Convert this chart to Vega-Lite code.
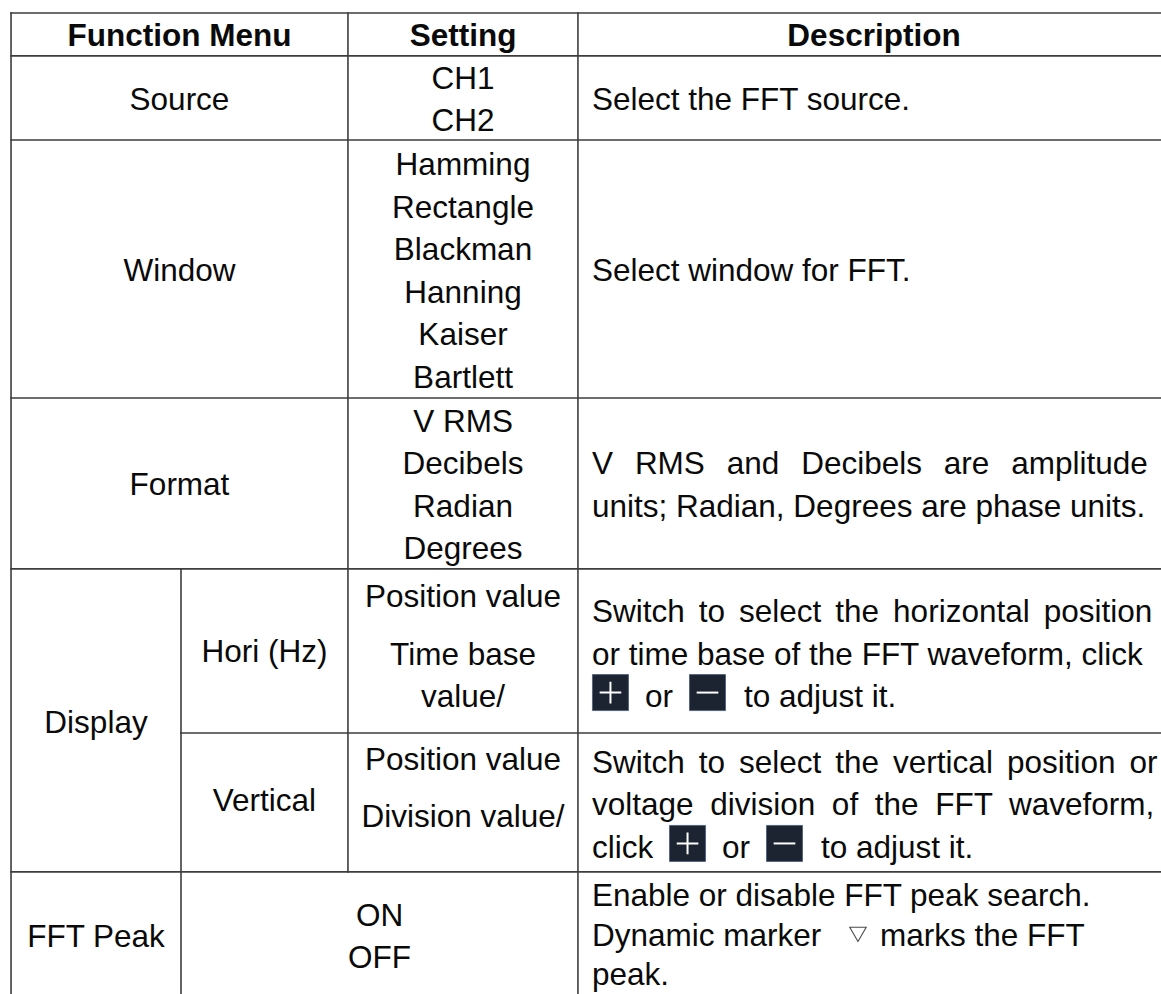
{
  "$schema": "https://vega.github.io/schema/vega-lite/v6.json",
  "width": 1161,
  "height": 994,
  "padding": 0,
  "autosize": {"type": "none"},
  "background": "#ffffff",
  "config": {"view": {"stroke": null}},
  "datasets": {
    "grid": [
      {"x": 0.95, "x2": 0.95, "line": 0, "line2": 23.3},
      {"x": 15.59, "x2": 15.59, "line": 13.08, "line2": 23.3},
      {"x": 29.97, "x2": 29.97, "line": 0, "line2": 20.21},
      {"x": 49.78, "x2": 49.78, "line": 0, "line2": 23.3},
      {"x": 0.95, "x2": 100, "line": 0, "line2": 0},
      {"x": 0.95, "x2": 100, "line": 1.01, "line2": 1.01},
      {"x": 0.95, "x2": 100, "line": 2.99, "line2": 2.99},
      {"x": 0.95, "x2": 100, "line": 9.06, "line2": 9.06},
      {"x": 0.95, "x2": 100, "line": 13.08, "line2": 13.08},
      {"x": 15.59, "x2": 100, "line": 16.94, "line2": 16.94},
      {"x": 0.95, "x2": 100, "line": 20.21, "line2": 20.21}
    ],
    "cells": [
      {"kind": "head", "x": 15.46, "line": 0.5, "text": "Function Menu"},
      {"kind": "head", "x": 39.88, "line": 0.5, "text": "Setting"},
      {"kind": "head", "x": 75.28, "line": 0.5, "text": "Description"},

      {"kind": "center", "x": 15.46, "line": 2.0, "text": "Source"},
      {"kind": "center", "x": 15.46, "line": 6.03, "text": "Window"},
      {"kind": "center", "x": 15.46, "line": 11.07, "text": "Format"},
      {"kind": "center", "x": 8.27, "line": 16.65, "text": "Display"},
      {"kind": "center", "x": 8.27, "line": 21.7, "text": "FFT Peak"},
      {"kind": "center", "x": 22.78, "line": 15.0, "text": "Hori (Hz)"},
      {"kind": "center", "x": 22.78, "line": 18.5, "text": "Vertical"},

      {"kind": "center", "x": 39.88, "line": 1.5, "text": "CH1"},
      {"kind": "center", "x": 39.88, "line": 2.5, "text": "CH2"},
      {"kind": "center", "x": 39.88, "line": 3.53, "text": "Hamming"},
      {"kind": "center", "x": 39.88, "line": 4.53, "text": "Rectangle"},
      {"kind": "center", "x": 39.88, "line": 5.53, "text": "Blackman"},
      {"kind": "center", "x": 39.88, "line": 6.53, "text": "Hanning"},
      {"kind": "center", "x": 39.88, "line": 7.53, "text": "Kaiser"},
      {"kind": "center", "x": 39.88, "line": 8.53, "text": "Bartlett"},
      {"kind": "center", "x": 39.88, "line": 9.57, "text": "V RMS"},
      {"kind": "center", "x": 39.88, "line": 10.57, "text": "Decibels"},
      {"kind": "center", "x": 39.88, "line": 11.57, "text": "Radian"},
      {"kind": "center", "x": 39.88, "line": 12.57, "text": "Degrees"},
      {"kind": "center", "x": 39.88, "line": 13.69, "text": "Position value"},
      {"kind": "center", "x": 39.88, "line": 15.06, "text": "Time base"},
      {"kind": "center", "x": 39.88, "line": 16.05, "text": "value/"},
      {"kind": "center", "x": 39.88, "line": 17.53, "text": "Position value"},
      {"kind": "center", "x": 39.88, "line": 18.87, "text": "Division value/"},
      {"kind": "center", "x": 32.69, "line": 21.2, "text": "ON"},
      {"kind": "center", "x": 32.69, "line": 22.2, "text": "OFF"},

      {"kind": "desc", "x": 50.99, "line": 2.0, "text": "Select the FFT source."},
      {"kind": "desc", "x": 50.99, "line": 6.03, "text": "Select window for FFT."},
      {"kind": "desc", "x": 50.99, "line": 10.57, "text": "V \u2005\u2006RMS \u2005\u2006and \u2005\u2006Decibels \u2005\u2006are \u2005\u2006amplitude"},
      {"kind": "desc", "x": 50.99, "line": 11.57, "text": "units; Radian, Degrees are phase units."},
      {"kind": "desc", "x": 50.99, "line": 14.05, "text": "Switch \u2006to \u2006select \u2006the \u2006horizontal \u2006position"},
      {"kind": "desc", "x": 50.99, "line": 15.05, "text": "or time base of the FFT waveform, click"},
      {"kind": "desc", "x": 55.56, "line": 16.05, "text": "or"},
      {"kind": "desc", "x": 64.08, "line": 16.05, "text": "to adjust it."},
      {"kind": "desc", "x": 50.99, "line": 17.6, "text": "Switch \u2006to \u2006select \u2006the \u2006vertical \u2006position \u2006or"},
      {"kind": "desc", "x": 50.99, "line": 18.6, "text": "voltage \u2005division \u2005of \u2005the \u2005FFT \u2005waveform,"},
      {"kind": "desc", "x": 50.99, "line": 19.6, "text": "click"},
      {"kind": "desc", "x": 62.19, "line": 19.6, "text": "or"},
      {"kind": "desc", "x": 70.71, "line": 19.6, "text": "to adjust it."},
      {"kind": "desc", "x": 50.99, "line": 20.72, "text": "Enable or disable FFT peak search."},
      {"kind": "desc", "x": 50.99, "line": 21.68, "text": "Dynamic marker"},
      {"kind": "desc", "x": 75.8, "line": 21.68, "text": "marks the FFT"},
      {"kind": "desc", "x": 50.99, "line": 22.58, "text": "peak."}
    ],
    "icons": [
      {"x": 52.58, "line": 15.99, "sym": "plus"},
      {"x": 60.94, "line": 15.99, "sym": "minus"},
      {"x": 59.22, "line": 19.54, "sym": "plus"},
      {"x": 67.57, "line": 19.54, "sym": "minus"}
    ],
    "markers": [
      {"x": 73.9, "line": 21.68, "name": "peak marker"}
    ]
  },
  "layer": [
    {
      "data": {"name": "grid"},
      "mark": {"type": "rule", "stroke": "#3d3d3d", "strokeWidth": 1.6, "strokeCap": "square"},
      "encoding": {
        "x": {"field": "x", "type": "quantitative", "scale": {"domain": [0, 100], "range": [0, 1161], "nice": false, "zero": false}, "axis": null},
        "x2": {"field": "x2"},
        "y": {"field": "line", "type": "quantitative", "scale": {"domain": [0, 23.0824], "range": [13, 994], "nice": false, "zero": false}, "axis": null},
        "y2": {"field": "line2"}
      }
    },
    {
      "data": {"name": "cells"},
      "transform": [{"filter": "datum.kind === 'head'"}],
      "mark": {"type": "text", "font": "Liberation Sans", "fontSize": 31.5, "fontWeight": "bold", "align": "center", "baseline": "middle", "dy": 3, "color": "#0a0a0a"},
      "encoding": {
        "x": {"field": "x", "type": "quantitative", "scale": {"domain": [0, 100], "range": [0, 1161], "nice": false, "zero": false}, "axis": null},
        "y": {"field": "line", "type": "quantitative", "scale": {"domain": [0, 23.0824], "range": [13, 994], "nice": false, "zero": false}, "axis": null},
        "text": {"field": "text"}
      }
    },
    {
      "data": {"name": "cells"},
      "transform": [{"filter": "datum.kind === 'center'"}],
      "mark": {"type": "text", "font": "Liberation Sans", "fontSize": 31.5, "align": "center", "baseline": "middle", "dy": 3, "color": "#0a0a0a"},
      "encoding": {
        "x": {"field": "x", "type": "quantitative", "scale": {"domain": [0, 100], "range": [0, 1161], "nice": false, "zero": false}, "axis": null},
        "y": {"field": "line", "type": "quantitative", "scale": {"domain": [0, 23.0824], "range": [13, 994], "nice": false, "zero": false}, "axis": null},
        "text": {"field": "text"}
      }
    },
    {
      "data": {"name": "cells"},
      "transform": [{"filter": "datum.kind === 'desc'"}],
      "mark": {"type": "text", "font": "Liberation Sans", "fontSize": 31.5, "align": "left", "baseline": "middle", "dy": 3, "color": "#0a0a0a"},
      "encoding": {
        "x": {"field": "x", "type": "quantitative", "scale": {"domain": [0, 100], "range": [0, 1161], "nice": false, "zero": false}, "axis": null},
        "y": {"field": "line", "type": "quantitative", "scale": {"domain": [0, 23.0824], "range": [13, 994], "nice": false, "zero": false}, "axis": null},
        "text": {"field": "text"}
      }
    },
    {
      "data": {"name": "icons"},
      "mark": {"type": "point", "shape": "square", "size": 1296, "filled": true, "fill": "#1c2331", "stroke": "#56657f", "strokeWidth": 1, "opacity": 1},
      "encoding": {
        "x": {"field": "x", "type": "quantitative", "scale": {"domain": [0, 100], "range": [0, 1161], "nice": false, "zero": false}, "axis": null},
        "y": {"field": "line", "type": "quantitative", "scale": {"domain": [0, 23.0824], "range": [13, 994], "nice": false, "zero": false}, "axis": null}
      }
    },
    {
      "data": {"name": "icons"},
      "mark": {"type": "point", "filled": false, "stroke": "#ffffff", "strokeWidth": 2, "size": 470, "opacity": 1},
      "encoding": {
        "x": {"field": "x", "type": "quantitative", "scale": {"domain": [0, 100], "range": [0, 1161], "nice": false, "zero": false}, "axis": null},
        "y": {"field": "line", "type": "quantitative", "scale": {"domain": [0, 23.0824], "range": [13, 994], "nice": false, "zero": false}, "axis": null},
        "shape": {"field": "sym", "type": "nominal", "scale": {"domain": ["plus", "minus"], "range": ["M-1,0L1,0M0,-1L0,1", "M-1,0L1,0"]}, "legend": null}
      }
    },
    {
      "data": {"name": "markers"},
      "mark": {"type": "point", "shape": "triangle-down", "filled": false, "stroke": "#4a4a4a", "strokeWidth": 1.1, "size": 270, "opacity": 1},
      "encoding": {
        "x": {"field": "x", "type": "quantitative", "scale": {"domain": [0, 100], "range": [0, 1161], "nice": false, "zero": false}, "axis": null},
        "y": {"field": "line", "type": "quantitative", "scale": {"domain": [0, 23.0824], "range": [13, 994], "nice": false, "zero": false}, "axis": null}
      }
    }
  ]
}
